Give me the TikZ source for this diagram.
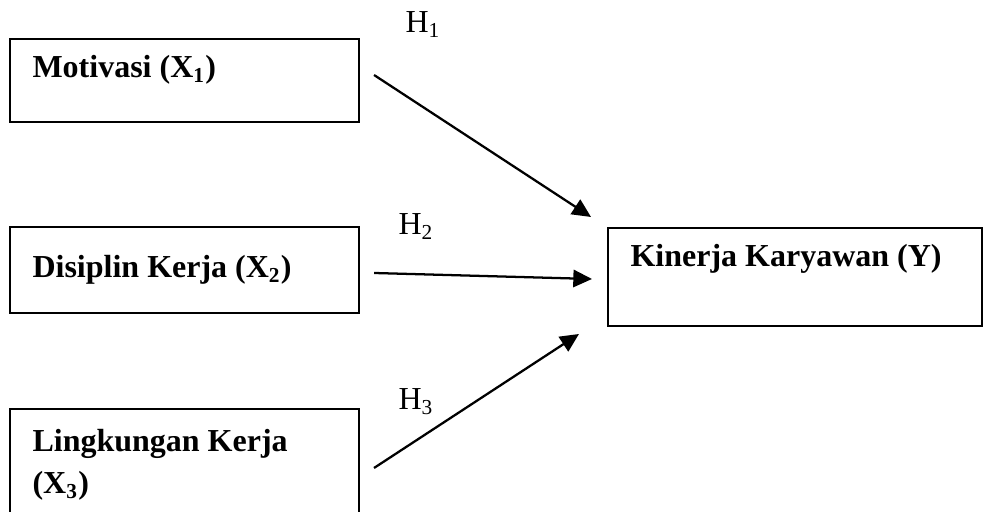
\documentclass[tikz,border=0pt]{standalone}
\usepackage{fontspec}
\setmainfont{Liberation Serif}
\usetikzlibrary{arrows.meta}

\begin{document}
\begin{tikzpicture}[x=0.375pt, y=0.375pt,
    varbox/.style={draw, line width=0.75pt, rectangle, minimum width=130.9pt, inner sep=0},
    varlbl/.style={anchor=base west, inner sep=0, align=left,
        font=\fontsize{12}{15.75}\selectfont\bfseries},
    hyplbl/.style={anchor=base west, inner sep=0, font=\fontsize{12}{14}\selectfont},
    hyparrow/.style={line width=0.85pt, -{Triangle[length=7pt, width=6.5pt]}}]

    \useasboundingbox (0,0) rectangle (991,512);

    % Variabel bebas (X1, X2, X3)
    \node[varbox, minimum height=31.1pt] (mot) at (184.5, 431.5) {};
    \node[varlbl] (motlbl) at (32, 434) {Motivasi (X\textsubscript{1})};

    \node[varbox, minimum height=32.25pt] (dis) at (184.5, 242) {};
    \node[varlbl] (dislbl) at (32, 234) {Disiplin Kerja (X\textsubscript{2})};

    \node[varbox, minimum height=45.4pt] (lin) at (184.5, 42.5) {};
    \node[varlbl] (linlbl) at (32, 18) {Lingkungan Kerja\\(X\textsubscript{3})};

    % Variabel terikat (Y)
    \node[varbox, minimum width=140.25pt, minimum height=36.75pt] (kin) at (795, 235) {};
    \node[varlbl] (kinlbl) at (630, 245) {Kinerja Karyawan (Y)};

    % Hipotesis H1, H2, H3
    \draw[hyparrow] ([shift={(14,5.5)}]mot.east) -- ([shift={(-16,10)}]kin.north west);
    \draw[hyparrow] ([shift={(14,-3)}]dis.east) -- ([shift={(-15,-2)}]kin.west);
    \draw[hyparrow] ([shift={(14,1.5)}]lin.east) -- ([shift={(-28,-7)}]kin.south west);

    \node[hyplbl] (h1) at (405, 479) {H\textsubscript{1}};
    \node[hyplbl] (h2) at (398, 277) {H\textsubscript{2}};
    \node[hyplbl] (h3) at (398, 102) {H\textsubscript{3}};

\end{tikzpicture}
\end{document}
